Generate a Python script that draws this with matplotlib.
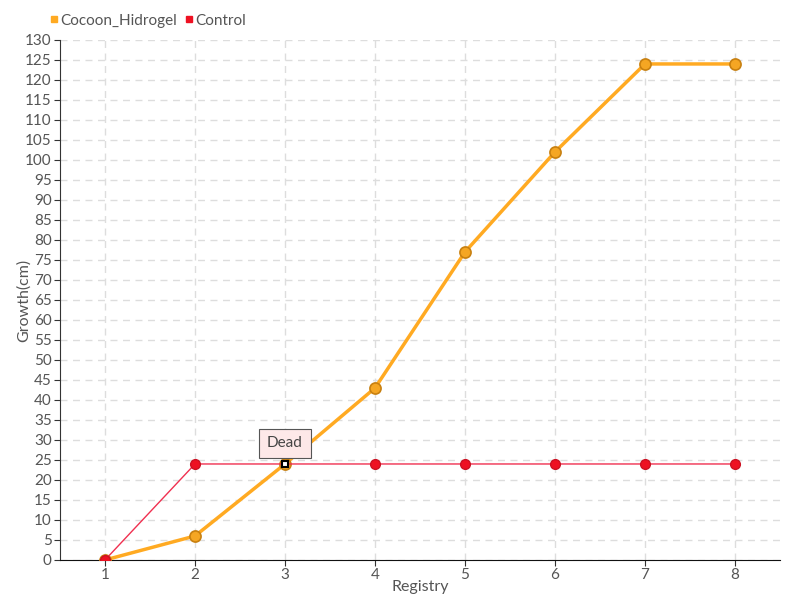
import matplotlib
matplotlib.use("Agg")
import matplotlib.pyplot as plt
from matplotlib.lines import Line2D

registry = [1, 2, 3, 4, 5, 6, 7, 8]
cocoon = [0, 6, 24, 43, 77, 102, 124, 124]
control = [0, 24, 24, 24, 24, 24, 24, 24]
dead_index = 2
dead_label = "Dead"
y_ticks = list(range(0, 131, 5))

plt.rcParams['font.family'] = ['Lato', 'DejaVu Sans']
fig = plt.figure(figsize=(8, 6), dpi=100)
ax = fig.add_axes([0.075, 0.0667, 0.9, 0.8667])

orange = '#FFAA22'
red = '#EE1122'
tc = '#555555'

ax.plot(registry, cocoon, color=orange, lw=2.5, marker='o', ms=8,
        mfc='#F5A623', mec='#C88010', mew=1.2, zorder=3)
ax.plot(registry, control, color='#F03050', lw=1, zorder=4)
ax.plot([x for i, x in enumerate(registry) if i != dead_index],
        [y for i, y in enumerate(control) if i != dead_index],
        ls='none', marker='o', ms=7, mfc=red, mec='#CC1122', zorder=5)
ax.plot(registry[dead_index], control[dead_index], ls='none', marker='s', ms=5,
        mfc='white', mec='black', mew=1.5, zorder=6)
ax.annotate(dead_label, xy=(registry[dead_index], control[dead_index]),
            xytext=(0, 15), textcoords='offset points', ha='center', va='center',
            fontsize=11, color='#444444',
            bbox=dict(boxstyle='square,pad=0.5', fc='#FDE8E8', ec='#555555', lw=0.8),
            zorder=7)

ax.set_xlim(0.5, 8.5)
ax.set_ylim(0, 130)
ax.set_xticks(registry)
ax.set_yticks(y_ticks)
ax.grid(True, color='#DDDDDD', ls=(0, (5, 4)), lw=1)
ax.set_axisbelow(True)
for s in ['top', 'right']:
    ax.spines[s].set_visible(False)
ax.spines['left'].set_color('#333333')
ax.spines['bottom'].set_color('#111111')
ax.tick_params(axis='both', colors='#333333', labelcolor=tc, labelsize=11, length=4, pad=2)
ax.set_xlabel('Registry', color=tc, fontsize=11.5)
ax.set_ylabel('Growth(cm)', color=tc, fontsize=11.5)
ax.xaxis.set_label_coords(0.5, -0.038)
ax.yaxis.set_label_coords(-0.04, 0.5)

handles = [Line2D([], [], ls='none', marker='s', ms=4.5, mfc=orange, mec=orange),
           Line2D([], [], ls='none', marker='s', ms=4.5, mfc=red, mec=red)]
fig.legend(handles, ['Cocoon_Hidrogel', 'Control'], loc='upper left',
           bbox_to_anchor=(0.045, 1.0), ncol=2, frameon=False, fontsize=11,
           handlelength=0.5, handletextpad=0.2, columnspacing=0.5,
           labelcolor=tc)

fig.savefig('out.png', dpi=100)
